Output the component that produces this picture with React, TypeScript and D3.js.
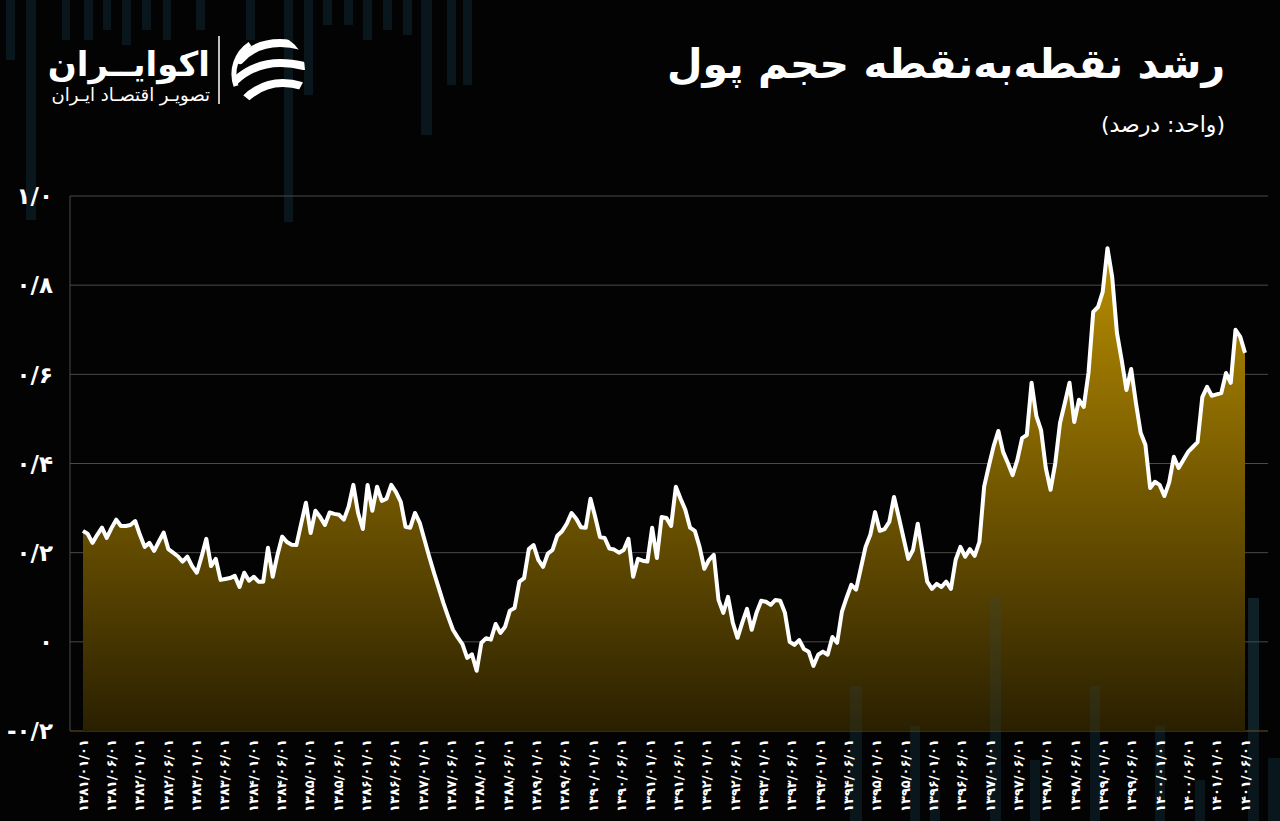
import React from "react";
import * as d3 from "d3";

const title = "رشد نقطه‌به‌نقطه حجم پول";
const subtitle = "(واحد: درصد)";
const brandName = "اکوایــران";
const brandTag = "تصویـر اقتصـاد ایـران";

const yTicks = [-0.2, 0, 0.2, 0.4, 0.6, 0.8, 1.0];
const yTickLabels = ["-۰/۲", "۰", "۰/۲", "۰/۴", "۰/۶", "۰/۸", "۱/۰"];

const xLabels = [
  "۱۳۸۱/۰۱/۰۱", "۱۳۸۱/۰۶/۰۱", "۱۳۸۲/۰۱/۰۱", "۱۳۸۲/۰۶/۰۱", "۱۳۸۳/۰۱/۰۱", "۱۳۸۳/۰۶/۰۱",
  "۱۳۸۴/۰۱/۰۱", "۱۳۸۴/۰۶/۰۱", "۱۳۸۵/۰۱/۰۱", "۱۳۸۵/۰۶/۰۱", "۱۳۸۶/۰۱/۰۱", "۱۳۸۶/۰۶/۰۱",
  "۱۳۸۷/۰۱/۰۱", "۱۳۸۷/۰۶/۰۱", "۱۳۸۸/۰۱/۰۱", "۱۳۸۸/۰۶/۰۱", "۱۳۸۹/۰۱/۰۱", "۱۳۸۹/۰۶/۰۱",
  "۱۳۹۰/۰۱/۰۱", "۱۳۹۰/۰۶/۰۱", "۱۳۹۱/۰۱/۰۱", "۱۳۹۱/۰۶/۰۱", "۱۳۹۲/۰۱/۰۱", "۱۳۹۲/۰۶/۰۱",
  "۱۳۹۳/۰۱/۰۱", "۱۳۹۳/۰۶/۰۱", "۱۳۹۴/۰۱/۰۱", "۱۳۹۴/۰۶/۰۱", "۱۳۹۵/۰۱/۰۱", "۱۳۹۵/۰۶/۰۱",
  "۱۳۹۶/۰۱/۰۱", "۱۳۹۶/۰۶/۰۱", "۱۳۹۷/۰۱/۰۱", "۱۳۹۷/۰۶/۰۱", "۱۳۹۸/۰۱/۰۱", "۱۳۹۸/۰۶/۰۱",
  "۱۳۹۹/۰۱/۰۱", "۱۳۹۹/۰۶/۰۱", "۱۴۰۰/۰۱/۰۱", "۱۴۰۰/۰۶/۰۱", "۱۴۰۱/۰۱/۰۱", "۱۴۰۱/۰۶/۰۱",
];

// monthly point-to-point growth of money supply
const growth = [
  0.249, 0.242, 0.222, 0.240, 0.256, 0.233, 0.255, 0.274, 0.260, 0.260,
  0.262, 0.271, 0.240, 0.213, 0.222, 0.204, 0.225, 0.245, 0.208, 0.200,
  0.192, 0.180, 0.191, 0.170, 0.155, 0.191, 0.231, 0.170, 0.186, 0.139,
  0.141, 0.143, 0.148, 0.123, 0.155, 0.137, 0.146, 0.135, 0.135, 0.211,
  0.146, 0.195, 0.236, 0.224, 0.218, 0.217, 0.265, 0.312, 0.244, 0.294,
  0.280, 0.262, 0.290, 0.287, 0.285, 0.274, 0.303, 0.352, 0.289, 0.253,
  0.352, 0.294, 0.348, 0.316, 0.321, 0.352, 0.336, 0.314, 0.258, 0.256,
  0.289, 0.267, 0.229, 0.191, 0.155, 0.121, 0.087, 0.056, 0.027, 0.010,
  -0.005, -0.036, -0.028, -0.065, -0.002, 0.008, 0.005, 0.040, 0.020, 0.034,
  0.070, 0.076, 0.135, 0.143, 0.208, 0.217, 0.184, 0.168, 0.198, 0.206,
  0.238, 0.248, 0.265, 0.289, 0.276, 0.257, 0.256, 0.321, 0.280, 0.235,
  0.233, 0.209, 0.207, 0.200, 0.206, 0.231, 0.146, 0.186, 0.182, 0.180,
  0.256, 0.188,
  0.280, 0.278, 0.260, 0.348, 0.321, 0.296, 0.256, 0.249, 0.213, 0.164,
  0.184, 0.195, 0.094, 0.065, 0.101, 0.043, 0.009, 0.043, 0.074, 0.027,
  0.065, 0.092, 0.090, 0.083, 0.094, 0.092, 0.065, 0.000, -0.007, 0.004,
  -0.016, -0.022, -0.054, -0.029, -0.022, -0.029, 0.011, -0.002, 0.067, 0.099,
  0.128, 0.117, 0.165,
  0.213, 0.240, 0.291, 0.249, 0.253, 0.269, 0.325, 0.280, 0.233, 0.186,
  0.206, 0.265, 0.200, 0.135, 0.119, 0.130, 0.123, 0.135, 0.119, 0.184,
  0.213, 0.191, 0.208, 0.193, 0.224, 0.348, 0.395, 0.439, 0.473, 0.426,
  0.401, 0.374, 0.408, 0.457, 0.464, 0.581, 0.507, 0.475, 0.390, 0.341,
  0.401, 0.491, 0.535, 0.581, 0.493, 0.543, 0.527, 0.603, 0.740, 0.751,
  0.785, 0.883, 0.818, 0.693, 0.632, 0.565, 0.612, 0.536, 0.469, 0.442,
  0.345, 0.359, 0.352, 0.327, 0.357, 0.415, 0.390, 0.408, 0.426, 0.437,
  0.448, 0.549, 0.572, 0.552, 0.555, 0.558, 0.603, 0.581, 0.700, 0.684,
  0.648,
];

// decorative background bars (x, width, top, bottom)
const bgBars: [number, number, number, number][] = [
  [6, 9, 0, 60], [26, 10, 0, 220], [62, 8, 0, 40], [84, 9, 0, 40], [103, 8, 0, 30],
  [122, 9, 0, 45], [142, 9, 0, 30], [163, 8, 0, 40], [196, 9, 0, 30], [246, 9, 0, 40],
  [284, 9, 0, 222], [304, 9, 0, 95], [323, 9, 0, 25], [344, 9, 0, 25], [363, 9, 0, 40],
  [383, 9, 0, 30], [403, 9, 0, 35], [421, 11, 0, 135], [447, 9, 0, 85], [463, 9, 0, 85],
  [850, 12, 686, 821], [910, 10, 726, 821], [990, 11, 598, 821], [1090, 10, 686, 821],
  [1155, 10, 726, 821], [1248, 11, 598, 821], [1268, 12, 758, 821], [930, 10, 790, 821],
  [1030, 10, 760, 821], [1195, 10, 780, 821],
];

const W = 1280;
const H = 821;
const plotLeft = 70;
const plotRight = 1268;
const xStart = 83;
const xEnd = 1245;
const yTop = 196;
const yBottom = 731;

export default function App() {
  const x = d3.scaleLinear().domain([0, growth.length - 1]).range([xStart, xEnd]);
  const y = d3.scaleLinear().domain([-0.2, 1.0]).range([yBottom, yTop]);
  const labelX = d3.scalePoint<number>().domain(xLabels.map((_, i) => i)).range([xStart, xEnd]);

  const area = d3
    .area<number>()
    .x((_, i) => x(i))
    .y0(yBottom)
    .y1((d) => y(d));
  const line = d3
    .line<number>()
    .x((_, i) => x(i))
    .y((d) => y(d));

  const fa = "'DejaVu Sans', 'Noto Sans', sans-serif";

  return (
    <svg
      width={W}
      height={H}
      style={{ position: "fixed", left: 0, top: 0, display: "block" }}
      xmlns="http://www.w3.org/2000/svg"
    >
      <defs>
        <linearGradient id="fillGrad" gradientUnits="userSpaceOnUse" x1="0" y1={yTop} x2="0" y2={yBottom}>
          <stop offset="0%" stopColor="#c89a00" />
          <stop offset="45%" stopColor="#836400" />
          <stop offset="100%" stopColor="#2a2000" />
        </linearGradient>
        <clipPath id="logoClip">
          <circle cx={269} cy={70} r={36} />
        </clipPath>
      </defs>
      <rect x={0} y={0} width={W} height={H} fill="#030303" />

      {bgBars.map(([bx, bw, t, b], i) => (
        <rect key={"bg" + i} x={bx} y={t} width={bw} height={b - t} fill="#0c1d24" opacity={0.75} />
      ))}

      {/* grid */}
      {yTicks.map((t, i) => (
        <line
          key={"g" + i}
          x1={plotLeft}
          x2={plotRight}
          y1={y(t)}
          y2={y(t)}
          stroke={i === 0 ? "#6b5220" : "#4a4a4a"}
          strokeWidth={1}
        />
      ))}
      <line x1={plotLeft} x2={plotLeft} y1={yTop} y2={yBottom} stroke="#4a4a4a" strokeWidth={1} />

      <path d={area(growth) || ""} fill="url(#fillGrad)" />
      {bgBars
        .filter((b) => b[2] > 500)
        .map(([bx, bw, t, b], i) => (
          <rect key={"fg" + i} x={bx} y={t} width={bw} height={Math.min(b, yBottom) - t} fill="#2a5060" opacity={0.18} />
        ))}
      <path d={line(growth) || ""} fill="none" stroke="#ffffff" strokeWidth={4} strokeLinejoin="round" />

      {/* y labels */}
      {yTicks.map((t, i) => (
        <text
          key={"yl" + i}
          x={53}
          y={y(t)}
          dy="0.36em"
          textAnchor="end"
          fill="#ffffff"
          fontFamily={fa}
          fontWeight="bold"
          fontSize={23}
          direction="ltr"
        >
          {yTickLabels[i]}
        </text>
      ))}

      {/* x labels */}
      {xLabels.map((lab, i) => {
        const lx = labelX(i) as number;
        return (
          <text
            key={"xl" + i}
            transform={`translate(${lx},739) rotate(-90)`}
            textAnchor="end"
            dy="0.36em"
            fill="#ffffff"
            fontFamily={fa}
            fontWeight="bold"
            fontSize={13}
            direction="ltr"
          >
            {lab}
          </text>
        );
      })}

      {/* title */}
      <text
        x={1225}
        y={78}
        textAnchor="start"
        direction="rtl"
        fill="#ffffff"
        fontFamily={fa}
        fontWeight="bold"
        fontSize={41}
      >
        {title}
      </text>
      <text
        x={1225}
        y={132}
        textAnchor="start"
        direction="rtl"
        fill="#ffffff"
        fontFamily={fa}
        fontSize={22}
      >
        {subtitle}
      </text>

      {/* logo */}
      <text x={210} y={76} textAnchor="start" direction="rtl" fill="#ffffff" fontFamily={fa} fontWeight="bold" fontSize={34}>
        {brandName}
      </text>
      <text x={210} y={101} textAnchor="start" direction="rtl" fill="#ffffff" fontFamily={fa} fontSize={18}>
        {brandTag}
      </text>
      <line x1={219} x2={219} y1={36} y2={104} stroke="#ffffff" strokeWidth={1.5} />
      <g clipPath="url(#logoClip)" fill="none" stroke="#ffffff" strokeWidth={8} strokeLinecap="round">
        <path d="M240,60 Q262,36 302,46" />
        <path d="M236,80 Q262,56 304,66" />
        <path d="M244,100 Q268,76 302,86" />
      </g>
      <path d="M250,44 A36,36 0 0 0 236,86" fill="none" stroke="#ffffff" strokeWidth={5} />
    </svg>
  );
}
